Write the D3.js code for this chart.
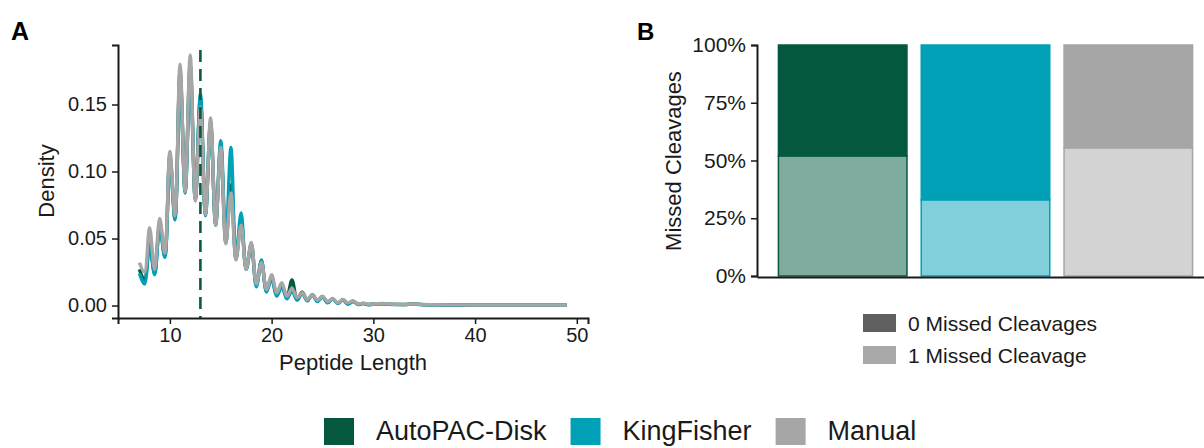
<!DOCTYPE html>
<html>
<head>
<meta charset="utf-8">
<script src="https://cdn.jsdelivr.net/npm/d3@7"></script>
<style>
  body { margin: 0; background: #fff; }
  svg { font-family: "Liberation Sans", Arial, sans-serif; display: block; }
</style>
</head>
<body>
<div class="canvas"></div>
<script>
// ---- data ----
const methods = ['AutoPAC-Disk', 'KingFisher', 'Manual'];
const methodColors = ['#04583f', '#00a0b7', '#a6a6a6'];
const lightColors = ['#80ab9f', '#80cfdb', '#d3d3d3'];

// peptide length grid (density sampled at peaks / troughs)
const lengths = [7,7.5,8,8.5,9,9.5,10,10.5,11,11.5,12,12.5,13,13.5,14,14.5,15,15.5,16,16.5,17,17.5,18,18.5,19,19.5,20,20.5,21,21.5,22,22.5,23,23.5,24,24.5,25,25.5,26,26.5,27,27.5,28,28.5,29,29.5,30,31,32,33,34,35,36,38,40,42,44,46,49];

const densAutoPAC = [0.027,0.019,0.046,0.024,0.061,0.037,0.112,0.065,0.175,0.085,0.180,0.079,0.155,0.068,0.137,0.060,0.119,0.047,0.090,0.035,0.063,0.027,0.046,0.015,0.033,0.011,0.021,0.008,0.015,0.006,0.019,0.005,0.010,0.004,0.008,0.0035,0.0068,0.0025,0.005,0.0018,0.0042,0.0015,0.0032,0.001,0.0016,0.0008,0.0011,0.0013,0.0009,0.0008,0.0011,0.0007,0.0005,0.0004,0.0004,0.0004,0.0004,0.0004,0.0004];
const densKingFisher = [0.024,0.016,0.045,0.023,0.058,0.036,0.110,0.064,0.172,0.084,0.176,0.079,0.158,0.067,0.136,0.061,0.123,0.048,0.118,0.036,0.069,0.027,0.045,0.014,0.034,0.010,0.020,0.007,0.014,0.005,0.011,0.004,0.009,0.0035,0.008,0.003,0.0065,0.002,0.005,0.0015,0.004,0.001,0.003,0.0008,0.0015,0.0006,0.001,0.0012,0.0008,0.0007,0.001,0.0006,0.0004,0.0003,0.0003,0.0003,0.0003,0.0003,0.0003];
const densManual = [0.032,0.025,0.058,0.027,0.065,0.039,0.115,0.067,0.180,0.085,0.187,0.078,0.148,0.068,0.140,0.060,0.118,0.046,0.084,0.034,0.060,0.027,0.047,0.016,0.032,0.012,0.023,0.0095,0.017,0.007,0.013,0.006,0.0095,0.0045,0.008,0.004,0.007,0.003,0.005,0.002,0.0045,0.002,0.0035,0.0012,0.0018,0.001,0.0012,0.0015,0.001,0.0009,0.0012,0.0008,0.0006,0.0005,0.0004,0.0004,0.0004,0.0004,0.0004];
const medianLength = 13;

const densTicksX = [10, 20, 30, 40, 50];
const densTicksY = [0, 0.05, 0.10, 0.15];

// missed cleavage fractions per method
const oneMissed = [0.52, 0.33, 0.555];
const zeroMissed = [0.48, 0.67, 0.445];
const pctTicks = [0, 0.25, 0.5, 0.75, 1];
const cleavageLabels = ['0 Missed Cleavages', '1 Missed Cleavage'];
const cleavageKeyColors = ['#5f5f5f', '#a9a9a9'];

// ---- svg ----
const svg = d3.select('.canvas').append('svg')
              .attr('width', 1204)
              .attr('height', 448);

const ink = '#1a1a1a';

// ================= Panel A =================
const x = d3.scaleLinear().domain([4.9, 51.1]).range([118, 588]);
const y = d3.scaleLinear().domain([-0.0093, 0.1944]).range([318, 45]);

const pA = svg.append('g');

const series = [densAutoPAC, densKingFisher, densManual];
const line = d3.line()
               .x((d, i) => x(lengths[i]))
               .y(d => y(d))
               .curve(d3.curveCatmullRom.alpha(0.5));

pA.selectAll('.dens')
  .data(series)
  .enter()
  .append('path')
  .attr('class', 'dens')
  .attr('fill', 'none')
  .attr('stroke', (d, i) => methodColors[i])
  .attr('stroke-width', 3.4)
  .attr('stroke-linejoin', 'round')
  .attr('d', line);

// median dashed line
pA.append('line')
  .attr('x1', x(medianLength)).attr('x2', x(medianLength))
  .attr('y1', 50).attr('y2', 318)
  .attr('stroke', '#0b5a41')
  .attr('stroke-width', 2.6)
  .attr('stroke-dasharray', '12,7');

// axes
const axA_x = pA.append('g')
  .attr('transform', 'translate(0,318)')
  .call(d3.axisBottom(x).tickValues(densTicksX).tickSize(6).tickPadding(4));
const axA_y = pA.append('g')
  .attr('transform', 'translate(118,0)')
  .call(d3.axisLeft(y).tickValues(densTicksY).tickFormat(d3.format('.2f')).tickSize(6).tickPadding(5));

[axA_x, axA_y].forEach(ax => {
  ax.select('.domain').attr('stroke', ink).attr('stroke-width', 2);
  ax.selectAll('.tick line').attr('stroke', ink).attr('stroke-width', 1.5);
  ax.selectAll('.tick text').attr('fill', ink).style('font-size', '20px')
    .style('font-family', '"Liberation Sans", Arial, sans-serif');
});

pA.append('text')
  .attr('x', 353).attr('y', 370)
  .attr('text-anchor', 'middle')
  .attr('fill', ink)
  .style('font-size', '22px')
  .text('Peptide Length');

pA.append('text')
  .attr('transform', 'translate(54,181) rotate(-90)')
  .attr('text-anchor', 'middle')
  .attr('fill', ink)
  .style('font-size', '22px')
  .text('Density');

svg.append('text')
  .attr('x', 11).attr('y', 40)
  .style('font-size', '25px').style('font-weight', 'bold')
  .attr('fill', '#000')
  .text('A');

// ================= Panel B =================
const xb = d3.scaleBand().domain(methods).range([757, 1214]).paddingInner(0.1).paddingOuter(0.15);
const yb = d3.scaleLinear().domain([0, 1]).range([276, 45]);

const pB = svg.append('g');

// bottom segment: 1 missed cleavage
pB.selectAll('.seg1')
  .data(methods)
  .enter()
  .append('rect')
  .attr('class', 'seg1')
  .attr('x', d => xb(d))
  .attr('width', xb.bandwidth())
  .attr('y', (d, i) => yb(oneMissed[i]))
  .attr('height', (d, i) => yb(0) - yb(oneMissed[i]))
  .attr('fill', (d, i) => lightColors[i])
  .attr('stroke', (d, i) => methodColors[i])
  .attr('stroke-width', 1.5);

// top segment: 0 missed cleavages
pB.selectAll('.seg0')
  .data(methods)
  .enter()
  .append('rect')
  .attr('class', 'seg0')
  .attr('x', d => xb(d))
  .attr('width', xb.bandwidth())
  .attr('y', (d, i) => yb(oneMissed[i] + zeroMissed[i]))
  .attr('height', (d, i) => yb(oneMissed[i]) - yb(oneMissed[i] + zeroMissed[i]))
  .attr('fill', (d, i) => methodColors[i])
  .attr('stroke', (d, i) => methodColors[i])
  .attr('stroke-width', 1.5);

// axes
const axB_x = pB.append('g')
  .attr('transform', 'translate(0,277)')
  .call(d3.axisBottom(xb).tickSize(0).tickFormat(''));
axB_x.select('.domain').attr('stroke', ink).attr('stroke-width', 2);

const axB_y = pB.append('g')
  .attr('transform', 'translate(757,0)')
  .call(d3.axisLeft(yb).tickValues(pctTicks).tickFormat(d3.format('.0%')).tickSize(6).tickPadding(5));
axB_y.select('.domain').attr('stroke', ink).attr('stroke-width', 2);
axB_y.selectAll('.tick line').attr('stroke', ink).attr('stroke-width', 1.5);
axB_y.selectAll('.tick text').attr('fill', ink).style('font-size', '21px')
  .style('font-family', '"Liberation Sans", Arial, sans-serif');

pB.append('text')
  .attr('transform', 'translate(681,161) rotate(-90)')
  .attr('text-anchor', 'middle')
  .attr('fill', ink)
  .style('font-size', '22px')
  .text('Missed Cleavages');

svg.append('text')
  .attr('x', 637).attr('y', 40)
  .style('font-size', '24px').style('font-weight', 'bold')
  .attr('fill', '#000')
  .text('B');

// cleavage legend
const legB = pB.selectAll('.legB')
  .data(cleavageLabels)
  .enter()
  .append('g')
  .attr('class', 'legB')
  .attr('transform', (d, i) => `translate(863, ${314 + i * 32})`);
legB.append('rect')
  .attr('width', 33).attr('height', 18)
  .attr('fill', (d, i) => cleavageKeyColors[i]);
legB.append('text')
  .attr('x', 45).attr('y', 17)
  .attr('fill', ink)
  .style('font-size', '21px')
  .text(d => d);

// ================= Bottom legend =================
const leg = svg.append('g');
let lx = 324;
methods.forEach((m, i) => {
  leg.append('rect')
     .attr('x', lx).attr('y', 418)
     .attr('width', 30).attr('height', 27)
     .attr('fill', methodColors[i]);
  const t = leg.append('text')
     .attr('x', lx + 52).attr('y', 440)
     .attr('fill', ink)
     .style('font-size', '27px')
     .text(m);
  lx = lx + 52 + t.node().getComputedTextLength() + 24;
});
</script>
</body>
</html>
